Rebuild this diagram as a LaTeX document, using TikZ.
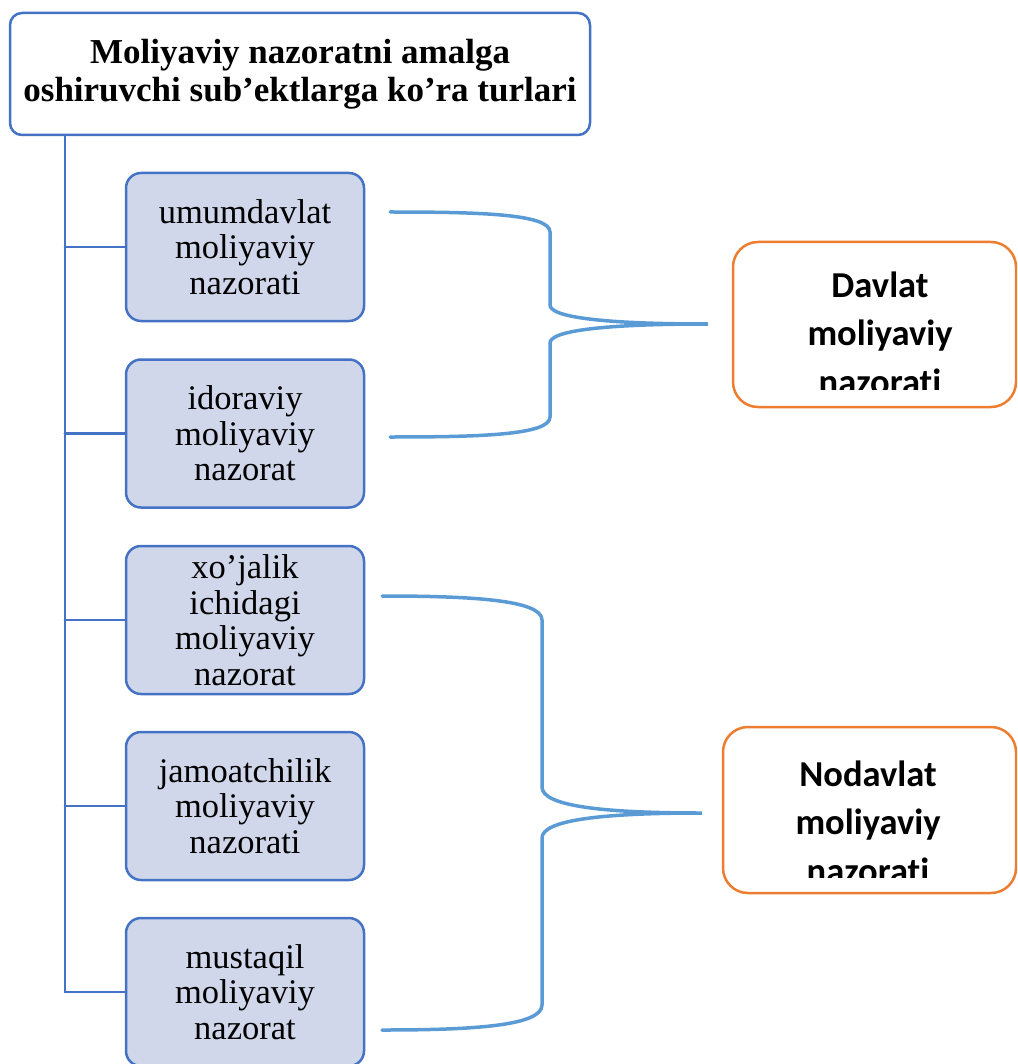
\documentclass[tikz,border=0pt]{standalone}
\usepackage{fontspec}
\setmainfont{Liberation Serif}
\newfontfamily\govfont[Ligatures=NoCommon]{Carlito}
\usetikzlibrary{calc}

\definecolor{boxblue}{HTML}{4472C4}
\definecolor{boxfill}{HTML}{D1D7EA}
\definecolor{braceblue}{HTML}{5B9BD5}
\definecolor{govorange}{HTML}{ED7D31}

\begin{document}
\begin{tikzpicture}[%
        x = 1pt,
        y = -1pt,
        line cap = round,
        titlebox/.style = {draw = boxblue, line width = 2.5pt, rounded corners = 12pt,
            minimum width = 580pt, minimum height = 122pt, align = center,
            font = \fontsize{35}{38}\selectfont\bfseries},
        kindbox/.style = {draw = boxblue, fill = boxfill, line width = 2.5pt,
            rounded corners = 15pt, minimum width = 238pt, minimum height = 148pt,
            align = center, inner sep = 0pt, font = \fontsize{34.5}{35.5}\selectfont},
        govbox/.style = {draw = govorange, line width = 2.5pt, rounded corners = 25pt},
        govtext/.style = {align = center, inner sep = 0pt,
            font = \govfont\fontsize{36.5}{48.5}\selectfont\bfseries},
        trunk/.style = {draw = boxblue, line width = 2.5pt},
        brace/.style = {draw = braceblue, line width = 3.5pt}
    ]

        % Frame of the figure.
        \useasboundingbox (0,0) rectangle (1017,1064);
        \clip (0,0) rectangle (1017,1064);

        % Title.
        \node[titlebox] (title) at (300,74)
            {Moliyaviy nazoratni amalga\\oshiruvchi sub’ektlarga ko’ra turlari};

        % Kinds of control.
        \node[kindbox] (umum) at (245,247)   {umumdavlat\\moliyaviy\\nazorati};
        \node[kindbox] (idor) at (245,433.5) {idoraviy\\moliyaviy\\nazorat};
        \node[kindbox] (xoj)  at (245,620)   {xo’jalik\\ichidagi\\moliyaviy\\nazorat};
        \node[kindbox] (jam)  at (245,806)   {jamoatchilik\\moliyaviy\\nazorati};
        \node[kindbox] (must) at (245,992)   {mustaqil\\moliyaviy\\nazorat};

        % Trunk line and its branches.
        \coordinate (trunk) at ([xshift=56pt]title.south west);
        \draw[trunk] (trunk) |- (must.west);
        \foreach \kind in {umum, idor, xoj, jam}
            \draw[trunk] (\kind.west -| trunk) -- (\kind.west);

        % Groups on the right.
        \node[govbox, minimum width = 283pt, minimum height = 165pt] (davlat) at (874.5,324.5) {};
        \begin{scope}
            \clip (davlat.north west) rectangle ([yshift=19pt]davlat.south east);
            \node[govtext] (davlattxt) at (880,333) {Davlat\\moliyaviy\\nazorati};
        \end{scope}

        \node[govbox, minimum width = 293pt, minimum height = 166pt] (nodavlat) at (869.5,810) {};
        \begin{scope}
            \clip (nodavlat.north west) rectangle ([yshift=17pt]nodavlat.south east);
            \node[govtext] (nodavlattxt) at (868,822) {Nodavlat\\moliyaviy\\nazorati};
        \end{scope}

        % Braces joining the kinds to their groups.
        \coordinate (dtop) at (390,212);
        \coordinate (dtip) at (708,324);
        \coordinate (dbot) at (390,437);
        \draw[brace]
            (dtop) .. controls (480,212) and (550,214) ..
            (550,232) -- (550,305) .. controls (550,318) and (610,324) ..
            (dtip) .. controls (610,324) and (550,330) ..
            (550,343) -- (550,417) .. controls (550,435) and (480,437) ..
            (dbot);

        \coordinate (ntop) at (382,596);
        \coordinate (ntip) at (702,813);
        \coordinate (nbot) at (382,1030);
        \draw[brace]
            (ntop) .. controls (472,596) and (542,600) ..
            (542,620) -- (542,787) .. controls (542,806) and (602,813) ..
            (ntip) .. controls (602,813) and (542,820) ..
            (542,838) -- (542,1005) .. controls (542,1026) and (472,1030) ..
            (nbot);
    \end{tikzpicture}
\end{document}
